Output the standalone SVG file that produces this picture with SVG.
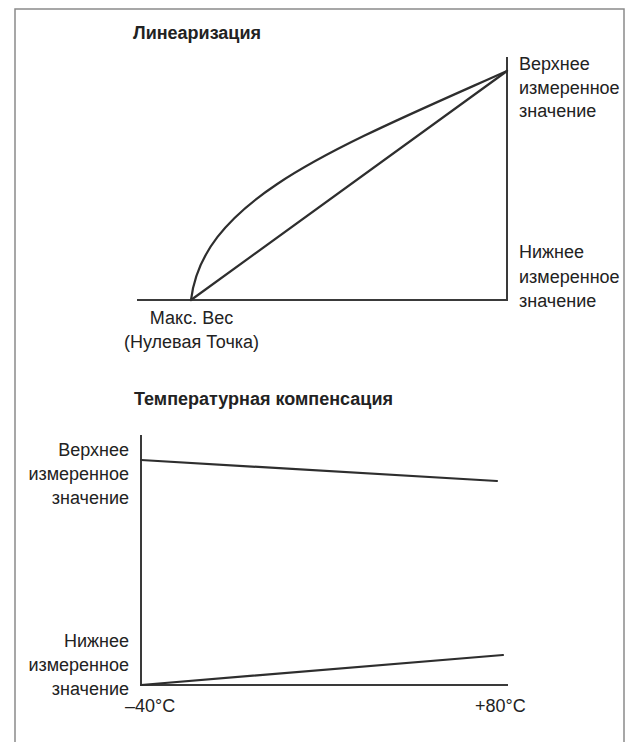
<svg xmlns="http://www.w3.org/2000/svg" width="630" height="742" viewBox="0 0 630 742">
  <style>
    .frame { fill: none; stroke: #8a8a8a; stroke-width: 1.5; }
    .axis { fill: none; stroke: #3a3a3a; stroke-width: 2; }
    .curve { fill: none; stroke: #2e2e2e; stroke-width: 2.2; stroke-linecap: round; stroke-linejoin: round; }
    .title { font-family: "Liberation Sans", Arial, sans-serif; font-size: 18px; font-weight: bold; fill: #222; }
    .lbl { font-family: "Liberation Sans", Arial, sans-serif; font-size: 18px; fill: #222; }
    .end { text-anchor: end; }
    .mid { text-anchor: middle; }
  </style>
  <rect width="630" height="742" fill="#fff"/>

  <!-- outer frame, open at the bottom -->
  <path class="frame" d="M15,742 V9 H624 V742"/>

  <!-- Linearisation chart -->
  <g id="linearization">
    <text class="title" x="133" y="39">Линеаризация</text>
    <g id="lin-axes">
      <path class="axis" d="M137,300 H507 V57"/>
    </g>
    <g id="lin-upper-label">
      <text class="lbl" x="519" y="70">Верхнее</text>
      <text class="lbl" x="519" y="93.5">измеренное</text>
      <text class="lbl" x="519" y="117">значение</text>
    </g>
    <g id="lin-lower-label">
      <text class="lbl" x="519" y="258">Нижнее</text>
      <text class="lbl" x="519" y="282.5">измеренное</text>
      <text class="lbl" x="519" y="307">значение</text>
    </g>
    <g id="lin-zero-label">
      <text class="lbl mid" x="191.5" y="324">Макс. Вес</text>
      <text class="lbl mid" x="191.5" y="347.5">(Нулевая Точка)</text>
    </g>
  </g>

  <!-- Temperature compensation chart -->
  <g id="temperature">
    <text class="title" x="134" y="405">Температурная компенсация</text>
    <g id="temp-axes">
      <path class="axis" d="M141,435 V685 H508"/>
    </g>
    <g id="temp-upper-label">
      <text class="lbl end" x="129" y="456">Верхнее</text>
      <text class="lbl end" x="129" y="480">измеренное</text>
      <text class="lbl end" x="129" y="503.5">значение</text>
    </g>
    <g id="temp-lower-label">
      <text class="lbl end" x="129" y="647">Нижнее</text>
      <text class="lbl end" x="129" y="671">измеренное</text>
      <text class="lbl end" x="129" y="695">значение</text>
    </g>
    <g id="temp-ticks">
      <text class="lbl" x="125" y="712">–40°C</text>
      <text class="lbl" x="475" y="712">+80°C</text>
    </g>
  </g>

  <!-- characteristic lines -->
  <g id="connectors">
    <path class="curve" d="M191,300 C203,200 330,150 507,71"/>
    <path class="curve" d="M191,300 L507,71"/>
    <path class="curve" d="M141,460 L497,481"/>
    <path class="curve" d="M141,685 L503,655"/>
  </g>
</svg>
